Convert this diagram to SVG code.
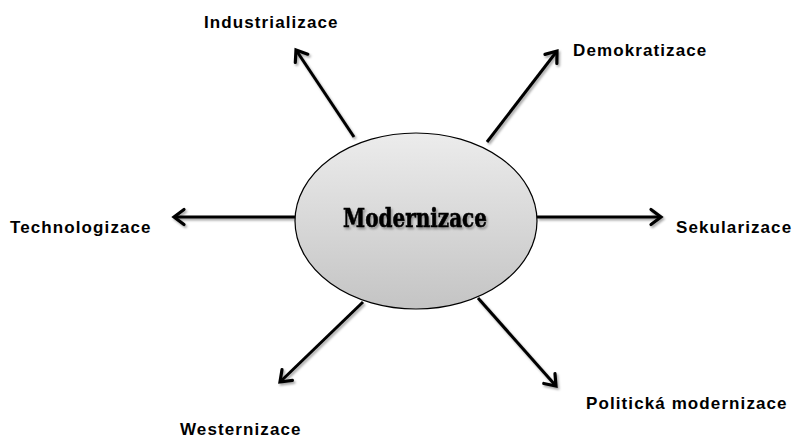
<svg xmlns="http://www.w3.org/2000/svg" width="794" height="438" viewBox="0 0 794 438">
<style>
.lbl{font-family:"Liberation Sans",Arial,sans-serif;font-weight:bold;font-size:17px;letter-spacing:1.1px;fill:#000}
.arr{stroke:#000;stroke-width:3;fill:none;marker-end:url(#ah)}
.center{font-family:"DejaVu Serif","Liberation Serif",serif;font-weight:bold;font-size:26px;fill:#000;stroke:#000;stroke-width:0.6}
</style>
<defs>
<linearGradient id="g" x1="0" y1="0" x2="0" y2="1">
<stop offset="0" stop-color="#ececec"/>
<stop offset="1" stop-color="#c4c4c4"/>
</linearGradient>
<filter id="sh" x="-20%" y="-20%" width="140%" height="140%">
<feDropShadow dx="1.5" dy="2" stdDeviation="1.2" flood-color="#000" flood-opacity="0.35"/>
</filter>
<marker id="ah" markerUnits="userSpaceOnUse" orient="auto" markerWidth="30" markerHeight="30" refX="0" refY="0" viewBox="-15 -15 30 30" overflow="visible">
<path d="M-10,-7.5 L0,0 L-10,7.5" fill="none" stroke="#000" stroke-width="3.2" stroke-linejoin="miter" stroke-linecap="round"/>
</marker>
</defs>
<g id="connectors" filter="url(#sh)">
<line class="arr" x1="354" y1="137" x2="296" y2="50"/>
<line class="arr" x1="487" y1="142" x2="557" y2="51"/>
<line class="arr" x1="295" y1="217" x2="174" y2="217"/>
<line class="arr" x1="537" y1="217" x2="661" y2="217"/>
<line class="arr" x1="363" y1="302" x2="280" y2="382"/>
<line class="arr" x1="478" y1="298" x2="556" y2="386"/>
</g>
<g id="modernizace">
<ellipse cx="416" cy="221" rx="121" ry="88" fill="url(#g)" stroke="#000" stroke-width="1.2"/>
<text class="center" x="415" y="227" text-anchor="middle" textLength="144" lengthAdjust="spacingAndGlyphs" filter="url(#sh)">Modernizace</text>
</g>
<g id="industrializace"><text class="lbl" x="204" y="28">Industrializace</text></g>
<g id="demokratizace"><text class="lbl" x="573" y="56">Demokratizace</text></g>
<g id="technologizace"><text class="lbl" x="10" y="233">Technologizace</text></g>
<g id="sekularizace"><text class="lbl" x="676" y="233">Sekularizace</text></g>
<g id="westernizace"><text class="lbl" x="180" y="435">Westernizace</text></g>
<g id="politicka"><text class="lbl" x="586" y="409">Politická modernizace</text></g>
</svg>
